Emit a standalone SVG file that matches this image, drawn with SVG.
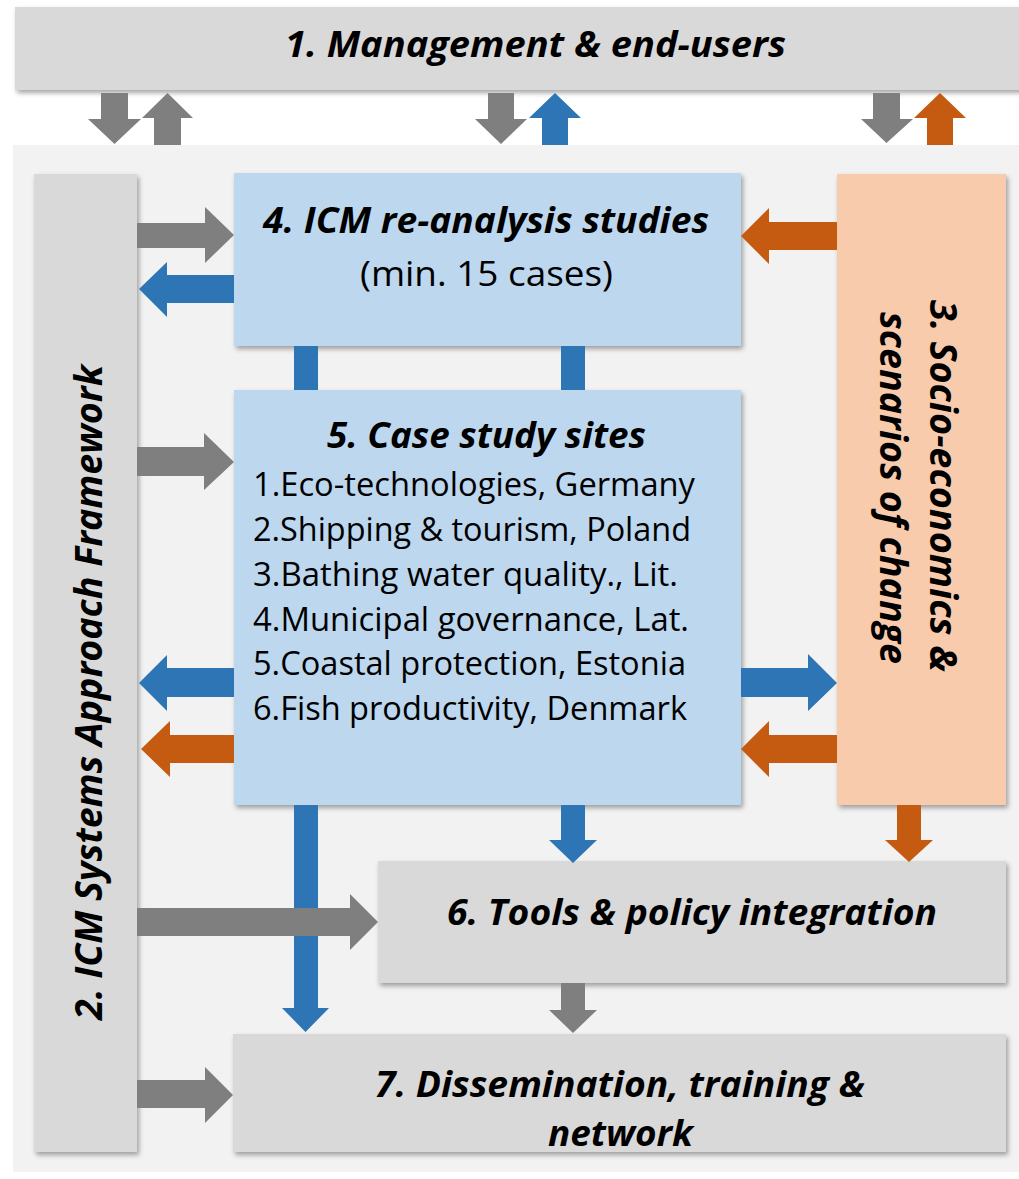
<svg xmlns="http://www.w3.org/2000/svg" width="1019" height="1179" viewBox="0 0 1019 1179">
<defs>
<filter id="sh" x="-5%" y="-5%" width="115%" height="115%">
<feDropShadow dx="2" dy="3" stdDeviation="2.5" flood-color="#000" flood-opacity="0.35"/>
</filter>
<style>
.gray{fill:#d9d9d9}
.blue{fill:#bdd7ee}
.peach{fill:#f8cbad}
.t{font-family:"Open Sans","Noto Sans","Liberation Sans",sans-serif;fill:#000}
.bi{font-weight:bold;font-style:italic}
.ag{fill:#7f7f7f}
.ab{fill:#2e75b6}
.ao{fill:#c55a11}
</style>
</defs>
<rect x="0" y="0" width="1019" height="1179" fill="#ffffff"/>
<rect id="panel" x="13" y="145" width="1010" height="1027" fill="#f2f2f2"/>

<g id="node1">
<rect class="gray" x="15" y="7" width="1010" height="83" filter="url(#sh)"/>
<text class="t bi" x="535.5" y="57" font-size="35" text-anchor="middle" textLength="501" lengthAdjust="spacingAndGlyphs">1. Management &amp; end-users</text>
</g>

<g id="node2">
<rect class="gray" x="34" y="174" width="103" height="978" filter="url(#sh)"/>
<text class="t bi" transform="translate(102,692.5) rotate(-90)" x="0" y="0" font-size="38" text-anchor="middle" textLength="655" lengthAdjust="spacingAndGlyphs">2. ICM Systems Approach Framework</text>
</g>

<g id="node4">
<rect class="blue" x="234" y="173" width="507" height="173" filter="url(#sh)"/>
<text class="t bi" x="486" y="233" font-size="35" text-anchor="middle" textLength="446" lengthAdjust="spacingAndGlyphs">4. ICM re-analysis studies</text>
<text class="t" x="486.5" y="286" font-size="35" text-anchor="middle" textLength="253" lengthAdjust="spacingAndGlyphs">(min. 15 cases)</text>
</g>

<g id="node3">
<rect class="peach" x="837" y="174" width="169" height="631" filter="url(#sh)"/>
<text class="t bi" transform="translate(930,486) rotate(90)" x="0" y="0" font-size="38" text-anchor="middle" textLength="372" lengthAdjust="spacingAndGlyphs">3. Socio-economics &amp;</text>
<text class="t bi" transform="translate(880,488) rotate(90)" x="0" y="0" font-size="38" text-anchor="middle" textLength="352" lengthAdjust="spacingAndGlyphs">scenarios of change</text>
</g>

<g id="node5">
<rect class="blue" x="234" y="390" width="507" height="415" filter="url(#sh)"/>
<text class="t bi" x="486.5" y="448" font-size="35" text-anchor="middle" textLength="319" lengthAdjust="spacingAndGlyphs">5. Case study sites</text>
<text class="t" x="253" y="496" font-size="32" textLength="442" lengthAdjust="spacingAndGlyphs">1.Eco-technologies, Germany</text>
<text class="t" x="253" y="541" font-size="32" textLength="438" lengthAdjust="spacingAndGlyphs">2.Shipping &amp; tourism, Poland</text>
<text class="t" x="253" y="586" font-size="32" textLength="425" lengthAdjust="spacingAndGlyphs">3.Bathing water quality., Lit.</text>
<text class="t" x="253" y="631" font-size="32" textLength="436" lengthAdjust="spacingAndGlyphs">4.Municipal governance, Lat.</text>
<text class="t" x="253" y="675" font-size="32" textLength="433" lengthAdjust="spacingAndGlyphs">5.Coastal protection, Estonia</text>
<text class="t" x="253" y="720" font-size="32" textLength="434" lengthAdjust="spacingAndGlyphs">6.Fish productivity, Denmark</text>
</g>

<g id="node6">
<rect class="gray" x="378" y="861" width="628" height="122" filter="url(#sh)"/>
<text class="t bi" x="692" y="925" font-size="35" text-anchor="middle" textLength="490" lengthAdjust="spacingAndGlyphs">6. Tools &amp; policy integration</text>
</g>

<g id="node7">
<rect class="gray" x="233" y="1034" width="773" height="118" filter="url(#sh)"/>
<text class="t bi" x="620" y="1097" font-size="35" text-anchor="middle" textLength="490" lengthAdjust="spacingAndGlyphs">7. Dissemination, training &amp;</text>
<text class="t bi" x="620.5" y="1146" font-size="35" text-anchor="middle" textLength="145" lengthAdjust="spacingAndGlyphs">network</text>
</g>

<g id="connectors">
<!-- top arrows between node1 and panel -->
<polygon class="ag" points="101,93 128,93 128,119 141,119 114.5,144 88,119 101,119"/>
<polygon class="ag" points="154,145 181,145 181,118 193,118 167.5,93 142,118 154,118"/>
<polygon class="ag" points="488,93 514,93 514,119 527,119 501,144 475,119 488,119"/>
<polygon class="ab" points="542,145 568,145 568,118 581,118 555,93 529,118 542,118"/>
<polygon class="ag" points="873,93 900,93 900,119 913,119 886.5,143 861,119 873,119"/>
<polygon class="ao" points="927,145 953,145 953,118 966,118 940,93 914,118 927,118"/>
<!-- node2 <-> node4 -->
<polygon class="ag" points="137,223 205,223 205,207 234,235 205,263 205,248 137,248"/>
<polygon class="ab" points="234,275 167,275 167,262 139,289 167,317 167,303 234,303"/>
<!-- node3 -> node4 -->
<polygon class="ao" points="837,222 769,222 769,208 741,236 769,264 769,250 837,250"/>
<!-- node4 - node5 bars -->
<rect class="ab" x="294" y="346" width="24" height="44"/>
<rect class="ab" x="561" y="346" width="24" height="44"/>
<!-- node2 -> node5 -->
<polygon class="ag" points="137,447 204,447 204,433 234,462 204,490 204,476 137,476"/>
<!-- node5 -> node2 -->
<polygon class="ab" points="234,668 167,668 167,655 139,683 167,711 167,697 234,697"/>
<polygon class="ao" points="234,735 170,735 170,721 141,749 170,777 170,763 234,763"/>
<!-- node5 <-> node3 -->
<polygon class="ab" points="741,668 808,668 808,654 837,683 808,711 808,697 741,697"/>
<polygon class="ao" points="837,735 769,735 769,721 741,749 769,777 769,763 837,763"/>
<!-- long blue down node5 -> node7 -->
<polygon class="ab" points="294,805 318,805 318,1008 329,1008 305.5,1032 282,1008 294,1008"/>
<!-- long gray node2 -> node6 -->
<polygon class="ag" points="137,908 350,908 350,894 378,922 350,950 350,936 137,936"/>
<!-- node5 -> node6 -->
<polygon class="ab" points="561,805 585,805 585,840 597,840 573,863 549,840 561,840"/>
<!-- node3 -> node6 -->
<polygon class="ao" points="897,805 921,805 921,840 933,840 909,862 885,840 897,840"/>
<!-- node6 -> node7 -->
<polygon class="ag" points="561,983 585,983 585,1010 597,1010 573,1033 549,1010 561,1010"/>
<!-- node2 -> node7 -->
<polygon class="ag" points="137,1080 205,1080 205,1067 233,1095 205,1123 205,1108 137,1108"/>
</g>
</svg>
